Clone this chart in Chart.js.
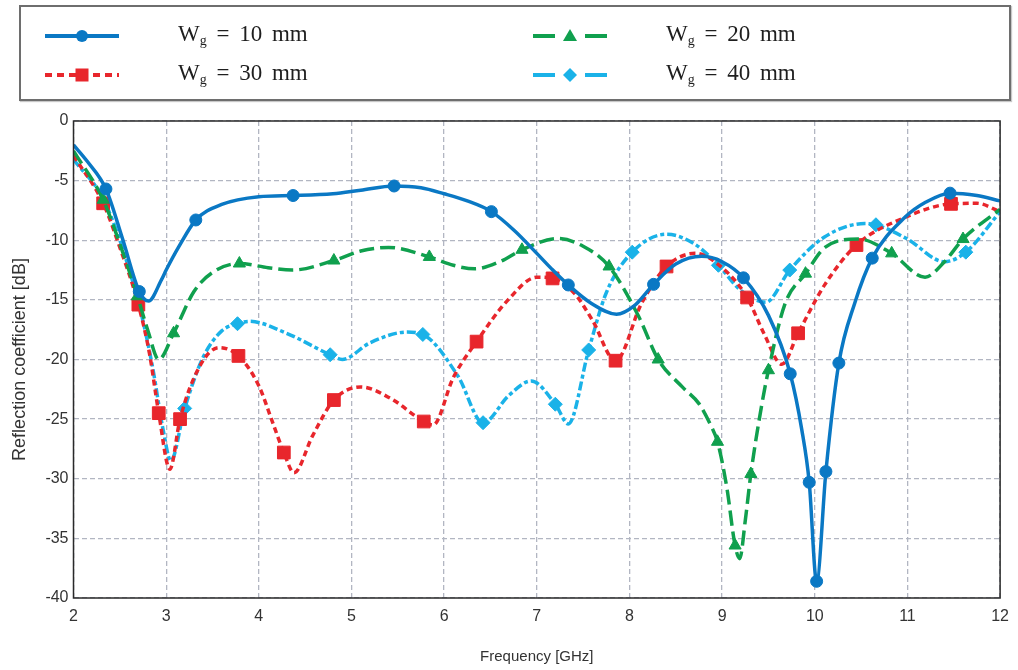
<!DOCTYPE html>
<html>
<head>
<meta charset="utf-8">
<script src="https://cdn.jsdelivr.net/npm/chart.js@4.4.0/dist/chart.umd.min.js"></script>
<style>
  html, body { margin: 0; padding: 0; background: #ffffff; }
  #wrap { position: relative; width: 1018px; height: 670px; overflow: hidden; }
  #chart { position: absolute; left: 0; top: 0; }
  #legend {
    position: absolute; left: 19px; top: 5px; width: 988px; height: 92px;
    border: 2px solid #6e6e6e; box-shadow: 1px 1px 1px #c8c8c8; background: #fff;
  }
  .item { position: absolute; height: 30px; }
  .item svg { position: absolute; left: 0; top: 0; }
  .item span {
    position: absolute; top: 0px; white-space: nowrap;
    font-family: 'Liberation Serif', 'Times New Roman', serif; font-size: 23px; color: #1e1e1e;
    word-spacing: 4px;
  }
  .item sub { font-size: 14px; vertical-align: -4px; line-height: 0; }
</style>
</head>
<body>
<div id="wrap">
  <canvas id="chart" width="1018" height="670"></canvas>
  <div id="legend"></div>
</div>
<script>
// ---- Data (frequency in GHz, reflection coefficient in dB) ----
const xTicks = [2, 3, 4, 5, 6, 7, 8, 9, 10, 11, 12];
const yTicks = [0, -5, -10, -15, -20, -25, -30, -35, -40];

const seriesLabels = ['10 mm', '20 mm', '30 mm', '40 mm'];

const wg10Freq = [2.0, 2.15, 2.35, 2.53, 2.71, 2.81, 2.95, 3.0, 3.14, 3.32, 3.6, 4.0, 4.37, 4.8, 5.1, 5.46, 5.75, 6.0, 6.25, 6.51, 6.76, 7.0, 7.16, 7.34, 7.59, 7.86, 8.05, 8.26, 8.5, 8.78, 9.0, 9.23, 9.5, 9.735, 9.86, 9.94, 10.02, 10.12, 10.26, 10.43, 10.62, 10.97, 11.2, 11.46, 11.75, 12.0];
const wg10Db   = [-2.0, -3.4, -5.7, -9.9, -14.3, -15.1, -13.3, -12.5, -10.5, -8.3, -7.0, -6.35, -6.25, -6.1, -5.8, -5.45, -5.6, -6.1, -6.7, -7.6, -9.2, -11.1, -12.4, -13.75, -15.3, -16.2, -15.5, -13.7, -12.0, -11.35, -11.8, -13.15, -16.3, -21.2, -25.9, -30.3, -38.6, -29.4, -20.3, -15.3, -11.5, -8.1, -6.8, -6.05, -6.25, -6.7];
const wg10Markers = [2.35, 2.71, 3.32, 4.37, 5.46, 6.51, 7.34, 8.26, 9.23, 9.735, 9.94, 10.02, 10.12, 10.26, 10.62, 11.46];

const wg20Freq = [2.0, 2.32, 2.5, 2.69, 2.8, 2.92, 3.08, 3.3, 3.5, 3.79, 4.1, 4.36, 4.81, 5.1, 5.4, 5.84, 6.1, 6.33, 6.6, 6.84, 7.23, 7.5, 7.78, 8.1, 8.31, 8.57, 8.75, 8.87, 8.95, 9.05, 9.14, 9.19, 9.25, 9.31, 9.43, 9.5, 9.68, 9.9, 10.11, 10.47, 10.83, 11.19, 11.4, 11.6, 12.0];
const wg20Db   = [-2.5, -6.6, -10.3, -14.7, -17.5, -20.0, -17.8, -14.3, -12.7, -11.95, -12.3, -12.5, -11.7, -10.9, -10.6, -11.4, -12.1, -12.4, -11.8, -10.8, -9.85, -10.5, -12.2, -16.4, -20.0, -22.3, -23.7, -25.4, -26.9, -30.7, -35.6, -36.7, -33.5, -29.6, -23.7, -20.9, -15.3, -12.8, -10.6, -9.9, -11.1, -13.1, -11.8, -9.9, -7.4];
const wg20Markers = [2.32, 2.69, 3.08, 3.79, 4.81, 5.84, 6.84, 7.78, 8.31, 8.95, 9.14, 9.31, 9.5, 9.9, 10.83, 11.6];

const wg30Freq = [2.0, 2.32, 2.5, 2.7, 2.82, 2.92, 3.04, 3.15, 3.36, 3.57, 3.78, 4.0, 4.15, 4.27, 4.38, 4.58, 4.81, 5.1, 5.43, 5.78, 5.88, 6.1, 6.35, 6.69, 7.0, 7.17, 7.4, 7.6, 7.85, 8.13, 8.4, 8.71, 9.0, 9.27, 9.45, 9.645, 9.82, 10.11, 10.45, 10.97, 11.47, 11.75, 12.0];
const wg30Db   = [-2.9, -6.9, -10.6, -15.4, -19.5, -24.5, -29.2, -25.0, -20.6, -19.0, -19.7, -22.2, -25.3, -27.8, -29.5, -26.4, -23.4, -22.3, -23.3, -25.2, -25.5, -21.5, -18.5, -15.0, -13.1, -13.2, -14.4, -16.7, -20.1, -15.3, -12.2, -11.1, -12.3, -14.8, -17.8, -20.4, -17.8, -13.7, -10.4, -8.1, -6.95, -6.9, -7.6];
const wg30Markers = [2.32, 2.7, 2.92, 3.15, 3.78, 4.27, 4.81, 5.78, 6.35, 7.17, 7.85, 8.4, 9.27, 9.82, 10.45, 11.47];

const wg40Freq = [2.0, 2.35, 2.7, 2.85, 2.97, 3.05, 3.2, 3.4, 3.6, 3.77, 3.9, 4.3, 4.77, 4.9, 5.2, 5.6, 5.77, 6.15, 6.42, 6.7, 6.94, 7.2, 7.34, 7.56, 7.75, 8.03, 8.4, 8.7, 8.96, 9.2, 9.47, 9.73, 10.1, 10.54, 10.66, 11.0, 11.4, 11.63, 12.0];
const wg40Db   = [-3.2, -7.0, -15.2, -20.5, -26.0, -28.5, -24.1, -19.8, -17.6, -17.0, -16.8, -17.8, -19.6, -20.0, -18.6, -17.7, -17.9, -21.4, -25.3, -23.0, -21.8, -23.75, -25.4, -19.2, -14.4, -11.0, -9.5, -10.3, -12.1, -14.2, -15.2, -12.5, -9.75, -8.6, -8.7, -9.9, -11.8, -11.0, -7.6];
const wg40Markers = [3.2, 3.77, 4.77, 5.77, 6.42, 7.2, 7.56, 8.03, 8.96, 9.73, 10.66, 11.63];

// ---- Styles ----
const COLORS = { b: '#0a78c4', g: '#10a04e', r: '#e8262c', c: '#1ab2e8' };

function pts(fx, fy) { return fx.map((x, i) => ({ x: x, y: fy[i] })); }

function mkDataset(label, fx, fy, markers, color, dash, pstyle, rad, order) {
  return {
    label: label,
    data: pts(fx, fy),
    borderColor: color,
    backgroundColor: color,
    borderWidth: 3.5,
    borderDash: dash,
    borderCapStyle: 'butt',
    cubicInterpolationMode: 'monotone',
    pointStyle: pstyle,
    pointRadius: (ctx) => markers.includes(fx[ctx.dataIndex]) ? rad : 0,
    pointHoverRadius: 0,
    pointBorderWidth: 1,
    pointBorderColor: color,
    pointBackgroundColor: color,
    order: order
  };
}

const boxPlugin = {
  id: 'plotBox',
  afterDatasetsDraw(chart) {
    const a = chart.chartArea, ctx = chart.ctx;
    ctx.save();
    ctx.strokeStyle = '#2a2a2a';
    ctx.lineWidth = 1.5;
    ctx.setLineDash([]);
    ctx.strokeRect(a.left, a.top, a.right - a.left, a.bottom - a.top);
    ctx.restore();
  }
};

const tickFont = { family: "'Liberation Sans', Arial, sans-serif", size: 16 };

new Chart(document.getElementById('chart'), {
  type: 'line',
  data: {
    datasets: [
      mkDataset(seriesLabels[0], wg10Freq, wg10Db, wg10Markers, COLORS.b, [], 'circle', 6, 1),
      mkDataset(seriesLabels[1], wg20Freq, wg20Db, wg20Markers, COLORS.g, [15, 6], 'triangle', 7, 2),
      mkDataset(seriesLabels[2], wg30Freq, wg30Db, wg30Markers, COLORS.r, [6, 4], 'rect', 9, 3),
      mkDataset(seriesLabels[3], wg40Freq, wg40Db, wg40Markers, COLORS.c, [9, 3, 4, 3], 'rectRot', 7, 4)
    ]
  },
  options: {
    responsive: false,
    animation: false,
    devicePixelRatio: 1,
    layout: { padding: { left: 0, top: 121, right: 16, bottom: 0 } },
    plugins: { legend: { display: false }, tooltip: { enabled: false } },
    scales: {
      x: {
        type: 'linear', min: 2, max: 12,
        afterFit: (s) => { s.height = 72; },
        afterBuildTicks: (s) => { s.ticks = xTicks.map(v => ({ value: v })); },
        ticks: { color: '#333', font: tickFont, padding: 9, maxRotation: 0 },
        grid: { color: '#b2b6c2', lineWidth: 1.3, drawTicks: false },
        border: { display: false, dash: [5, 3] },
        title: { display: true, text: 'Frequency [GHz]', color: '#333',
                 font: { family: "'Liberation Sans', Arial, sans-serif", size: 15 },
                 padding: { top: 0, bottom: 4 } }
      },
      y: {
        type: 'linear', min: -40, max: 0,
        afterFit: (s) => { s.width = 73.5; },
        afterBuildTicks: (s) => { s.ticks = yTicks.map(v => ({ value: v })); },
        ticks: { color: '#333', font: tickFont, padding: 5 },
        grid: { color: '#b2b6c2', lineWidth: 1.3, drawTicks: false },
        border: { display: false, dash: [5, 3] },
        title: { display: true, text: 'Reflection coefficient [dB]', color: '#333',
                 font: { family: "'Liberation Sans', Arial, sans-serif", size: 18 },
                 padding: { top: 9, bottom: 0 } }
      }
    }
  },
  plugins: [boxPlugin]
});

// ---- HTML legend (line sample with marker + label) ----
const legendItems = [
  { label: seriesLabels[0], color: COLORS.b, kind: 'solid',  marker: 'circle',   left: 24,  top: 14 },
  { label: seriesLabels[1], color: COLORS.g, kind: 'split',  marker: 'triangle', left: 512, top: 14 },
  { label: seriesLabels[2], color: COLORS.r, kind: 'dash',   marker: 'square',   left: 24,  top: 53 },
  { label: seriesLabels[3], color: COLORS.c, kind: 'split',  marker: 'diamond',  left: 512, top: 53 }
];
function markerSvg(m, c, cx, cy) {
  if (m === 'circle') return `<circle cx="${cx}" cy="${cy}" r="6" fill="${c}"/>`;
  if (m === 'square') return `<rect x="${cx-6.5}" y="${cy-6.5}" width="13" height="13" fill="${c}"/>`;
  if (m === 'triangle') return `<polygon points="${cx},${cy-7} ${cx+7},${cy+5} ${cx-7},${cy+5}" fill="${c}"/>`;
  return `<polygon points="${cx},${cy-7} ${cx+7},${cy} ${cx},${cy+7} ${cx-7},${cy}" fill="${c}"/>`;
}
const legendEl = document.getElementById('legend');
legendItems.forEach(it => {
  const w = 74, cy = 15, cx = 37;
  let line;
  if (it.kind === 'solid') line = `<line x1="0" y1="${cy}" x2="${w}" y2="${cy}" stroke="${it.color}" stroke-width="4"/>`;
  else if (it.kind === 'dash') line = `<line x1="0" y1="${cy}" x2="${w}" y2="${cy}" stroke="${it.color}" stroke-width="4" stroke-dasharray="7 5"/>`;
  else line = `<line x1="0" y1="${cy}" x2="22" y2="${cy}" stroke="${it.color}" stroke-width="4"/><line x1="52" y1="${cy}" x2="${w}" y2="${cy}" stroke="${it.color}" stroke-width="4"/>`;
  const div = document.createElement('div');
  div.className = 'item';
  div.style.left = it.left + 'px';
  div.style.top = it.top + 'px';
  div.innerHTML = `<svg width="${w}" height="30">${line}${markerSvg(it.marker, it.color, cx, cy)}</svg>` +
                  `<span style="left:${133}px">W<sub>g</sub> = ${it.label}</span>`;
  legendEl.appendChild(div);
});
</script>
</body>
</html>
